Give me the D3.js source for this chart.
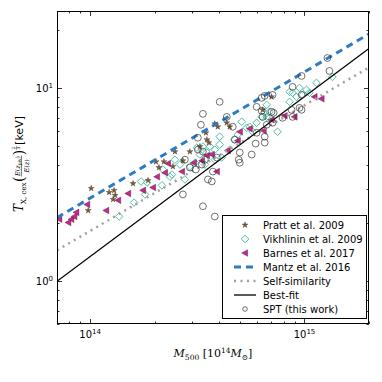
<!DOCTYPE html>
<html><head><meta charset="utf-8">
<script src="https://cdn.jsdelivr.net/npm/d3@7"></script>
<style>body{margin:0;background:#fff}svg{display:block}</style>
</head><body>
<script>
// Mass in units of 1e14 Msun, temperature in keV
const pratt = [[0.979,2.32],[1.011,3.02],[1.226,2.88],[1.279,2.65],[1.293,2.95],[1.307,2.78],[1.585,3.20],[1.862,3.32],[2.028,4.15],[2.094,3.87],[2.209,4.15],[2.433,3.92],[2.486,4.68],[2.708,4.20],[2.919,4.68],[3.25,4.97],[3.467,5.86],[3.504,5.40],[3.580,5.21],[3.815,6.52],[3.939,6.29],[4.337,6.60],[4.48,6.29],[6.38,7.70],[7.02,8.99]];
const vikhlinin = [[1.365,2.16],[1.602,2.55],[1.727,3.28],[1.803,2.81],[1.842,3.24],[2.162,3.13],[2.185,3.78],[2.356,3.47],[2.407,3.56],[2.486,4.25],[2.623,4.01],[2.766,3.36],[2.919,3.92],[3.079,4.10],[3.146,4.91],[3.25,4.52],[3.357,4.97],[3.430,4.01],[3.504,4.63],[3.62,4.97],[3.815,4.79],[3.815,4.25],[4.02,5.59],[4.02,5.09],[4.11,4.36],[4.48,4.79],[4.725,5.40],[4.88,5.72],[5.093,6.68],[5.374,6.22],[5.55,6.29],[5.73,5.93],[5.98,6.60],[6.31,7.08],[6.52,7.43],[6.66,8.17],[6.66,7.08],[6.87,7.52],[6.87,7.00],[7.49,5.93],[8.52,9.54],[8.52,8.47],[8.80,9.43],[9.17,8.99],[9.48,10.0],[9.79,9.20],[10.22,9.77],[10.55,9.43],[11.37,10.61],[13.50,11.40]];
const barnes = [[0.717,2.09],[0.790,2.01],[0.816,2.09],[0.843,2.16],[0.861,2.27],[0.968,2.49],[1.187,2.32],[1.350,2.62],[1.502,2.84],[1.764,2.95],[1.963,3.05],[2.050,3.47],[2.233,3.64],[2.306,4.06],[2.679,3.69],[3.046,4.10],[3.321,4.20],[3.504,4.47],[3.694,4.52],[3.897,3.69],[4.384,4.74],[4.88,5.33],[4.99,5.93],[5.55,6.15],[6.45,6.00],[7.02,6.84],[8.07,7.17],[8.98,7.08],[11.13,8.99],[12.0,8.78]];
const spt = [[2.708,2.81],[2.766,4.25],[2.919,3.87],[3.112,3.78],[3.180,5.52],[3.180,4.79],[3.286,6.44],[3.321,4.01],[3.357,7.34],[3.357,4.68],[3.357,2.44],[3.430,4.25],[3.542,3.36],[3.694,3.28],[3.736,3.69],[3.815,2.16],[3.897,4.36],[4.02,8.47],[4.337,7.08],[4.626,6.29],[4.725,5.40],[4.933,4.25],[4.99,4.63],[4.99,4.10],[5.67,4.52],[5.916,5.15],[5.98,7.98],[5.98,5.86],[6.31,8.88],[6.31,7.61],[6.38,7.08],[6.52,9.09],[6.52,5.59],[6.52,5.21],[6.66,6.44],[7.02,7.52],[7.10,9.20],[7.10,6.60],[7.18,7.43],[7.90,7.00],[8.70,7.70],[8.80,10.12],[8.80,7.08],[9.48,7.88],[9.69,11.53],[9.69,9.20],[9.69,7.70],[12.79,14.28],[13.07,12.24]];
// relation lines: T = norm * (M / 1e14)^slope
const relNames = ["Mantz et al. 2016","Self-similarity","Best-fit"];
const relNorm = [2.69, 1.82, 1.34];
const relSlope = [0.653, 0.65, 0.828];
const xTickVals = [1e14, 1e15];
const xTickExp = ["14","15"];
const yTickVals = [1, 10];
const yTickExp = ["0","1"];
const legendLabels = ["Pratt et al. 2009","Vikhlinin et al. 2009","Barnes et al. 2017","Mantz et al. 2016","Self-similarity","Best-fit","SPT (this work)"];

const W=382,H=382, L=57, R=369, T=11, B=324;
const svg = d3.select("body").append("svg").attr("width",W).attr("height",H);
const x = d3.scaleLog().domain([7.0e13, 2.0e15]).range([L,R]);
const y = d3.scaleLog().domain([0.6, 25]).range([B,T]);

const colStar="#8a5a2b", colDia="#3db59b", colTri="#d0218f", colMantz="#2c7cc3", colSS="#a0a0a0";

const plot = svg.append("g");
const clip = svg.append("clipPath").attr("id","c").append("rect").attr("x",L).attr("y",T).attr("width",R-L).attr("height",B-T);
const data = plot.append("g").attr("clip-path","url(#c)");

function diamondPath(r){return `M0,${-r}L${r},0L0,${r}L${-r},0Z`;}
function triLeftPath(r){return `M${-r},0L${r*0.8},${-r}L${r*0.8},${r}Z`;}
const starPath = d3.symbol().type(d3.symbolStar).size(11)();
const DR=3.8, TR=3.3;

const X = d=>x(d[0]*1e14), Y = d=>y(d[1]);

// Vikhlinin diamonds
data.append("g").selectAll("path").data(vikhlinin).join("path")
  .attr("d",diamondPath(DR)).attr("transform",d=>`translate(${X(d)},${Y(d)})`)
  .attr("fill","none").attr("stroke",colDia).attr("stroke-width",0.9);
// Pratt stars
data.append("g").selectAll("path").data(pratt).join("path")
  .attr("d",starPath).attr("transform",d=>`translate(${X(d)},${Y(d)})`)
  .attr("fill",colStar).attr("stroke","#222").attr("stroke-width",0.35);
// Barnes triangles
data.append("g").selectAll("path").data(barnes).join("path")
  .attr("d",triLeftPath(TR)).attr("transform",d=>`translate(${X(d)},${Y(d)})`)
  .attr("fill",colTri).attr("stroke","#222").attr("stroke-width",0.4);

// relation lines
const relStyle = [
  {stroke:colMantz, w:3, dash:"7,5"},
  {stroke:colSS, w:2.5, dash:"2,4.5"},
  {stroke:"#000", w:1.3, dash:null}
];
const xd = x.domain();
relNames.forEach((n,i)=>{
  const pts = xd.map(m=>[m, relNorm[i]*Math.pow(m/1e14, relSlope[i])]);
  data.append("path").attr("d", d3.line().x(d=>x(d[0])).y(d=>y(d[1]))(pts))
    .attr("fill","none").attr("stroke",relStyle[i].stroke).attr("stroke-width",relStyle[i].w)
    .attr("stroke-dasharray",relStyle[i].dash);
});

// SPT circles
data.append("g").selectAll("circle").data(spt).join("circle")
  .attr("cx",X).attr("cy",Y).attr("r",3.4)
  .attr("fill","none").attr("stroke","#333").attr("stroke-width",0.7);

// frame and ticks
const ax = svg.append("g").attr("stroke","#000");
function minorVals(dom){const v=[];for(let e=-2;e<20;e++){for(let k=1;k<10;k++){const val=k*Math.pow(10,e);if(val>=dom[0]&&val<=dom[1])v.push({v:val,major:k===1});}}return v;}
minorVals(x.domain()).forEach(t=>{
  const len=t.major?5:2.5, px=Math.round(x(t.v))+0.5;
  ax.append("line").attr("x1",px).attr("x2",px).attr("y1",B).attr("y2",B-len).attr("stroke-width",0.8);
  ax.append("line").attr("x1",px).attr("x2",px).attr("y1",T).attr("y2",T+len).attr("stroke-width",0.8);
});
minorVals(y.domain()).forEach(t=>{
  const len=t.major?5:2.5, py=Math.round(y(t.v))+0.5;
  ax.append("line").attr("x1",L).attr("x2",L+len).attr("y1",py).attr("y2",py).attr("stroke-width",0.8);
  ax.append("line").attr("x1",R).attr("x2",R-len).attr("y1",py).attr("y2",py).attr("stroke-width",0.8);
});
svg.append("rect").attr("x",L+0.5).attr("y",T+0.5).attr("width",R-L-1).attr("height",B-T-1)
  .attr("fill","none").attr("stroke","#000").attr("stroke-width",1);

const font="DejaVu Sans";
xTickVals.forEach((v,i)=>{
  const t=svg.append("text").attr("x",x(v)).attr("y",338).attr("text-anchor","middle")
    .attr("font-family",font).attr("font-size",10);
  t.append("tspan").text("10");
  t.append("tspan").attr("font-size",7).attr("dy",-4).text(xTickExp[i]);
});
yTickVals.forEach((v,i)=>{
  const t=svg.append("text").attr("x",53).attr("y",y(v)+4).attr("text-anchor","end")
    .attr("font-family",font).attr("font-size",10);
  t.append("tspan").text("10");
  t.append("tspan").attr("font-size",7).attr("dy",-4).text(yTickExp[i]);
});

// x label
const serif="DejaVu Serif";
const xl=svg.append("text").attr("x",(L+R)/2).attr("y",357).attr("text-anchor","middle")
  .attr("font-family",serif).attr("font-size",11);
xl.append("tspan").attr("font-style","italic").text("M");
xl.append("tspan").attr("font-size",7.5).attr("dy",2.5).text("500");
xl.append("tspan").attr("dy",-2.5).text(" [10");
xl.append("tspan").attr("font-size",7.5).attr("dy",-4.5).text("14");
xl.append("tspan").attr("dy",4.5).attr("font-style","italic").text("M");
xl.append("tspan").attr("font-size",7.5).attr("dy",2.5).text("⊙");
xl.append("tspan").attr("dy",-2.5).text("]");

// y label (rotated, built piece by piece)
const yl = svg.append("g").attr("transform","translate(23,164) rotate(-90)");
let cx=0;
function piece(txt,opts){
  const t=yl.append("text").attr("x",cx).attr("y",opts.dy||0)
    .attr("font-family",opts.ff||serif).attr("font-size",opts.fs||11)
    .attr("font-style",opts.it?"italic":"normal").text(txt);
  const w=t.node().getComputedTextLength(); if(!opts.noadv) cx+=w+(opts.gap||0); return {t,w};
}
piece("T",{it:true,fs:12});
piece("X, cex",{fs:7,dy:3,gap:0.5});
piece("(",{fs:14,dy:1});
// fraction
const fx=cx;
const num=yl.append("text").attr("y",-3.5).attr("font-family",serif).attr("font-size",6.5);
num.append("tspan").attr("font-style","italic").text("E");
num.append("tspan").text("(");
num.append("tspan").attr("font-style","italic").text("z");
num.append("tspan").attr("font-size",4.5).attr("dy",1.5).text("piv");
num.append("tspan").attr("dy",-1.5).text(")");
const den=yl.append("text").attr("y",5.5).attr("font-family",serif).attr("font-size",6.5);
den.append("tspan").attr("font-style","italic").text("E");
den.append("tspan").text("(");
den.append("tspan").attr("font-style","italic").text("z");
den.append("tspan").text(")");
const nw=num.node().getComputedTextLength(), dw=den.node().getComputedTextLength();
const fw=Math.max(nw,dw)+1;
num.attr("x",fx+(fw-nw)/2); den.attr("x",fx+(fw-dw)/2);
yl.append("line").attr("x1",fx).attr("x2",fx+fw).attr("y1",-1.5).attr("y2",-1.5).attr("stroke","#000").attr("stroke-width",0.5);
cx+=fw;
piece(")",{fs:14,dy:1});
const sx=cx;
yl.append("text").attr("x",sx+0.5).attr("y",-8).attr("font-family",serif).attr("font-size",4.5).text("2");
yl.append("line").attr("x1",sx).attr("x2",sx+4).attr("y1",-6.6).attr("y2",-6.6).attr("stroke","#000").attr("stroke-width",0.4);
yl.append("text").attr("x",sx+0.5).attr("y",-2.6).attr("font-family",serif).attr("font-size",4.5).text("3");
cx+=5;
piece(" [keV]",{ff:font,fs:11});
yl.selectAll("text,line").attr("transform",`translate(${-cx/2},0)`);

// legend
const lg = svg.append("g");
const lx=222, ly=215, lw=144, lh=103;
lg.append("rect").attr("x",lx+0.5).attr("y",ly+0.5).attr("width",lw).attr("height",lh)
  .attr("fill","#fff").attr("stroke","#000").attr("stroke-width",1);
legendLabels.forEach((lab,i)=>{
  const cy=225+i*14, mx=245;
  const g=lg.append("g");
  if(i===0) g.append("path").attr("d",starPath).attr("transform",`translate(${mx},${cy})`).attr("fill",colStar).attr("stroke","#222").attr("stroke-width",0.35);
  if(i===1) g.append("path").attr("d",diamondPath(DR)).attr("transform",`translate(${mx},${cy})`).attr("fill","none").attr("stroke",colDia).attr("stroke-width",0.9);
  if(i===2) g.append("path").attr("d",triLeftPath(TR)).attr("transform",`translate(${mx},${cy})`).attr("fill",colTri).attr("stroke","#222").attr("stroke-width",0.4);
  if(i>=3&&i<=5){const s=relStyle[i-3];
    g.append("line").attr("x1",234).attr("x2",256).attr("y1",cy).attr("y2",cy).attr("stroke",s.stroke).attr("stroke-width",s.w).attr("stroke-dasharray",s.dash);}
  if(i===6) g.append("circle").attr("cx",mx).attr("cy",cy).attr("r",2.3).attr("fill","none").attr("stroke","#333").attr("stroke-width",0.7);
  lg.append("text").attr("x",263).attr("y",cy+3.5).attr("font-family",font).attr("font-size",10).text(lab);
});
</script>
</body></html>
